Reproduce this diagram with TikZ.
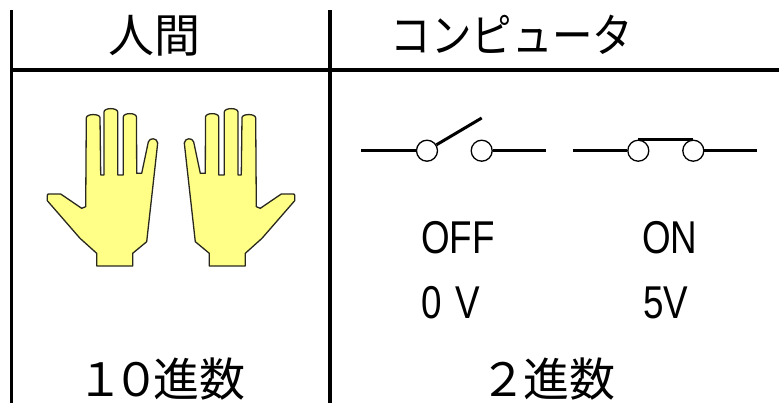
\documentclass[tikz,border=0pt]{standalone}
\usepackage{fontspec}
\newfontfamily\jpfont{Noto Sans CJK JP}
\newfontfamily\jpnarrow[FakeStretch=0.88]{Noto Sans CJK JP}
\newfontfamily\narrowsans[FakeStretch=0.8]{Liberation Sans}
\definecolor{handfill}{RGB}{255,255,136}
\definecolor{handline}{RGB}{40,40,30}
\begin{document}
\begin{tikzpicture}[x=1pt,y=-1pt,
  rule/.style={line width=3.3pt},
  wire/.style={line width=3pt},
  terminal/.style={circle,draw,line width=1.3pt,minimum size=21pt,inner sep=0pt,fill=white},
  hand/.style={fill=handfill,draw=handline,line width=1.3pt,line join=round},
  jp/.style={font=\jpfont\fontsize{46}{50}\selectfont,inner sep=0pt},
  jpn/.style={font=\jpnarrow\fontsize{46}{50}\selectfont,inner sep=0pt},
  lat/.style={font=\narrowsans\fontsize{46}{50}\selectfont,inner sep=0pt,anchor=base west}]
\useasboundingbox (0,0) rectangle (779,402);

% table rules
\coordinate (ltop) at (11.7,10);
\coordinate (lbot) at (11.7,405);
\coordinate (mtop) at (330,10);
\coordinate (mbot) at (330,405);
\coordinate (hl) at (11.7,70);
\coordinate (hr) at (782,70);
\draw[rule] (ltop) -- (lbot);
\draw[rule] (mtop) -- (mbot);
\draw[rule] (hl) -- (hr);

% headings
\node[jp] (human) at (154,36) {人間};
\node[jpn] (computer) at (512,35) {コンピュータ};

% hands: left hand outline, mirrored for the right hand
\def\handpath{
  (47.3,196) .. controls (47.3,194) .. (49.3,194) -- (60.7,194) -- (81.7,208.3)
  -- (85.7,206.7) -- (86.3,118) .. controls (86.3,113.5) and (99.5,113.5) .. (100,117.5)
  -- (100.7,175) -- (104,175) -- (104,112) .. controls (104,107.5) and (117.5,107.5) .. (117.7,112)
  -- (117.7,175) -- (123.3,175) -- (123.3,117) .. controls (123.3,112.5) and (136.3,112.5) .. (136.5,117)
  -- (136.7,173.3) -- (141.7,173.3) -- (148.3,142) .. controls (149.5,137.5) and (157,137.5) .. (157.7,143)
  -- (146.7,241.7) -- (132.7,253.3) -- (132.7,266) -- (96.7,266) -- (96.7,253.3)
  -- (80,238.3) -- (47.3,200.7) -- cycle}
\draw[hand] \handpath;
\begin{scope}[xshift=342pt,xscale=-1]
  \draw[hand] \handpath;
\end{scope}

% open switch
\coordinate (offa) at (361,150.7);
\coordinate (offb) at (546,150.7);
\node[terminal] (t1) at (427,150.7) {};
\node[terminal] (t2) at (481.7,150.7) {};
\coordinate (lever) at (481.7,118);
\draw[wire] (offa) -- (t1.west);
\draw[wire] (t2.east) -- (offb);
\draw[wire] (t1.32) -- (lever);

% closed switch
\coordinate (ona) at (572.7,150.7);
\coordinate (onb) at (757,150.7);
\node[terminal] (t3) at (638.3,150.7) {};
\node[terminal] (t4) at (693.3,150.7) {};
\draw[wire] (ona) -- (t3.west);
\draw[wire] (t4.east) -- (onb);
\draw[wire] (t3.north) -- (t4.north);

% states and voltages
\node[lat] (off) at (421,253) {OFF};
\node[lat] (on) at (642,253) {ON};
\node[lat] (zero) at (421,318) {0\hspace{4pt} V};
\node[lat] (five) at (643,318) {5V};

% number bases
\node[jp] (dec) at (161,379) {１\hspace{-10pt}０\hspace{-6pt}進数};
\node[jp] (bin) at (548,379) {２\hspace{-3pt}進数};
\end{tikzpicture}
\end{document}
